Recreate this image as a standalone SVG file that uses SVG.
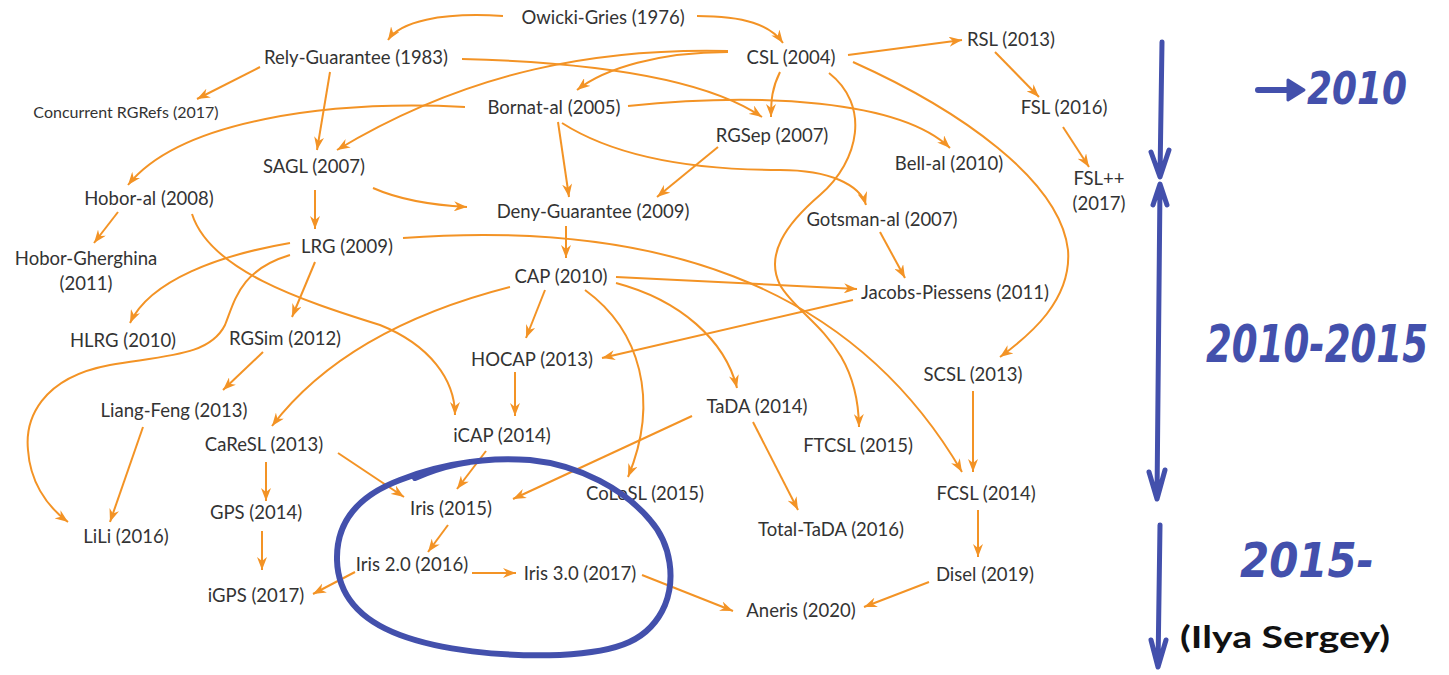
<svg xmlns="http://www.w3.org/2000/svg" width="1449" height="675" viewBox="0 0 1449 675">
<style>
.n{font-family:Lato,"Open Sans","Liberation Sans",sans-serif;font-size:18.5px;fill:#333;text-anchor:middle;font-weight:400}
.e{fill:none;stroke:#F39325;stroke-width:2;marker-end:url(#ah)}
.b{fill:none;stroke:#4350AC;stroke-width:5;stroke-linecap:round;stroke-linejoin:round}
.h{font-family:"DejaVu Sans","Liberation Sans",sans-serif;font-weight:bold;font-style:italic;fill:#4350AC}
</style>
<defs>
<marker id="ah" markerUnits="userSpaceOnUse" markerWidth="14" markerHeight="10" refX="13" refY="5" orient="auto">
<path d="M0,0 L13,5 L0,10 L4,5 z" fill="#F39325"/>
</marker>
</defs>
<rect width="1449" height="675" fill="#fff"/>
<g id="connectors">
<path class="e" d="M503,16 C 440,12 400,22 388,40"/>
<path class="e" d="M697,16 C 745,16 770,25 783,43"/>
<path class="e" d="M260,67 L197,99"/>
<path class="e" d="M330,72 L317,150"/>
<path class="e" d="M462,59 C 580,62 700,75 762,117"/>
<path class="e" d="M728,51 C 600,48 470,70 337,150"/>
<path class="e" d="M728,52 C 660,52 605,68 577,90"/>
<path class="e" d="M848,55 L962,40"/>
<path class="e" d="M780,72 C 772,88 771,100 771,117"/>
<path class="e" d="M853,62 C 960,110 1060,180 1068,250 C 1072,300 1030,335 1000,357"/>
<path class="e" d="M829,73 C 870,105 860,160 820,195 C 785,225 765,255 780,285 C 800,320 858,340 859,427"/>
<path class="e" d="M465,107 C 330,100 180,120 128,185"/>
<path class="e" d="M628,106 C 760,92 900,100 950,148"/>
<path class="e" d="M558,122 L569,197"/>
<path class="e" d="M562,123 C 620,160 700,170 780,170 C 830,170 860,185 866,205"/>
<path class="e" d="M718,147 L657,197"/>
<path class="e" d="M995,52 L1039,97"/>
<path class="e" d="M1063,127 L1089,167"/>
<path class="e" d="M373,188 C 400,200 430,205 467,207"/>
<path class="e" d="M315,190 L315,229"/>
<path class="e" d="M118,212 L94,243"/>
<path class="e" d="M192,214 C 210,270 300,300 380,325 C 430,345 455,380 455,415"/>
<path class="e" d="M566,226 L566,258"/>
<path class="e" d="M880,232 L905,278"/>
<path class="e" d="M403,238 C 650,220 850,280 962,472"/>
<path class="e" d="M290,243 C 220,255 150,280 130,323"/>
<path class="e" d="M290,255 C 240,270 235,300 225,325 C 210,355 170,355 110,365 C 40,378 25,420 28,450 C 30,480 45,505 68,522"/>
<path class="e" d="M315,262 L292,317"/>
<path class="e" d="M510,287 C 420,310 330,350 272,426"/>
<path class="e" d="M545,290 L526,338"/>
<path class="e" d="M616,277 L857,289"/>
<path class="e" d="M616,283 C 680,300 725,340 737,388"/>
<path class="e" d="M585,290 C 640,330 660,400 628,477"/>
<path class="e" d="M853,300 L602,358"/>
<path class="e" d="M515,372 L515,416"/>
<path class="e" d="M263,352 L223,390"/>
<path class="e" d="M143,427 L110,522"/>
<path class="e" d="M266,462 L266,501"/>
<path class="e" d="M338,453 L404,497"/>
<path class="e" d="M486,451 L457,489"/>
<path class="e" d="M692,416 L513,499"/>
<path class="e" d="M753,422 L798,510"/>
<path class="e" d="M262,531 L262,570"/>
<path class="e" d="M448,525 L428,552"/>
<path class="e" d="M355,572 L313,594"/>
<path class="e" d="M472,573 L516,573"/>
<path class="e" d="M642,575 L733,611"/>
<path class="e" d="M929,582 L864,607"/>
<path class="e" d="M973,391 L973,472"/>
<path class="e" d="M978,510 L978,557"/>
</g>
<g id="owicki"><text class="n" x="603" y="24">Owicki-Gries (1976)</text></g>
<g id="rely"><text class="n" x="356" y="64">Rely-Guarantee (1983)</text></g>
<g id="rgrefs"><text class="n" x="126" y="118" style="font-size:16px">Concurrent RGRefs (2017)</text></g>
<g id="csl"><text class="n" x="791" y="64">CSL (2004)</text></g>
<g id="rsl"><text class="n" x="1011" y="46">RSL (2013)</text></g>
<g id="bornat"><text class="n" x="554" y="114">Bornat-al (2005)</text></g>
<g id="fsl"><text class="n" x="1064" y="114">FSL (2016)</text></g>
<g id="rgsep"><text class="n" x="772" y="142">RGSep (2007)</text></g>
<g id="bell"><text class="n" x="949" y="170">Bell-al (2010)</text></g>
<g id="fslpp"><text class="n" x="1099" y="185">FSL++</text><text class="n" x="1099" y="210">(2017)</text></g>
<g id="sagl"><text class="n" x="314" y="173">SAGL (2007)</text></g>
<g id="hobor"><text class="n" x="149" y="205">Hobor-al (2008)</text></g>
<g id="deny"><text class="n" x="593" y="218">Deny-Guarantee (2009)</text></g>
<g id="gotsman"><text class="n" x="882" y="226">Gotsman-al (2007)</text></g>
<g id="lrg"><text class="n" x="347" y="253">LRG (2009)</text></g>
<g id="hg"><text class="n" x="86" y="265">Hobor-Gherghina</text><text class="n" x="86" y="290">(2011)</text></g>
<g id="hlrg"><text class="n" x="123" y="347">HLRG (2010)</text></g>
<g id="rgsim"><text class="n" x="285" y="345">RGSim (2012)</text></g>
<g id="liang"><text class="n" x="174" y="417">Liang-Feng (2013)</text></g>
<g id="caresl"><text class="n" x="264" y="451">CaReSL (2013)</text></g>
<g id="cap"><text class="n" x="561" y="283">CAP (2010)</text></g>
<g id="jp"><text class="n" x="955" y="299">Jacobs-Piessens (2011)</text></g>
<g id="hocap"><text class="n" x="532" y="366">HOCAP (2013)</text></g>
<g id="tada"><text class="n" x="757" y="413">TaDA (2014)</text></g>
<g id="icap"><text class="n" x="502" y="442">iCAP (2014)</text></g>
<g id="ftcsl"><text class="n" x="858" y="452">FTCSL (2015)</text></g>
<g id="scsl"><text class="n" x="973" y="381">SCSL (2013)</text></g>
<g id="gps"><text class="n" x="256" y="519">GPS (2014)</text></g>
<g id="iris"><text class="n" x="451" y="515">Iris (2015)</text></g>
<g id="colosl"><text class="n" x="645" y="500">CoLoSL (2015)</text></g>
<g id="fcsl"><text class="n" x="986" y="500">FCSL (2014)</text></g>
<g id="lili"><text class="n" x="126" y="543">LiLi (2016)</text></g>
<g id="totaltada"><text class="n" x="831" y="536">Total-TaDA (2016)</text></g>
<g id="iris2"><text class="n" x="412" y="571">Iris 2.0 (2016)</text></g>
<g id="iris3"><text class="n" x="580" y="580">Iris 3.0 (2017)</text></g>
<g id="disel"><text class="n" x="985" y="581">Disel (2019)</text></g>
<g id="igps"><text class="n" x="256" y="602">iGPS (2017)</text></g>
<g id="aneris"><text class="n" x="801" y="617">Aneris (2020)</text></g>
<g id="loop"><path class="b" style="stroke-width:6" d="M415,478 C 450,462 490,457 530,460 C 580,465 625,490 650,520 C 672,545 675,580 665,605 C 650,640 620,652 560,655 C 500,657 440,650 400,635 C 360,620 338,595 337,560 C 336,520 360,495 400,480 C 420,472 440,466 470,462"/></g>
<g id="timeline">
<path class="b" d="M1162,42 L1160,176 M1151,152 L1160,177 L1169,150"/>
<path class="b" d="M1153,205 L1160,184 L1167,205 M1160,186 L1157,498 M1149,472 L1157,499 L1165,470"/>
<path class="b" d="M1160,525 L1158,666 M1151,640 L1158,667 L1166,640"/>
<path class="b" d="M1258,90 L1296,90" style="stroke-width:6"/>
<path d="M1288,80 L1304,90 L1288,100 z" fill="#4350AC" stroke="#4350AC" stroke-width="3" stroke-linejoin="round"/>
<text class="h" x="1307" y="104" font-size="44" textLength="100" lengthAdjust="spacingAndGlyphs">2010</text>
<text class="h" transform="translate(1206,362) scale(1,1.4)" x="0" y="0" font-size="37" textLength="222" lengthAdjust="spacingAndGlyphs">2010-2015</text>
<text class="h" x="1240" y="577" font-size="48" textLength="134" lengthAdjust="spacingAndGlyphs">2015-</text>
<text x="1180" y="648" font-family="Lato,'Liberation Sans',sans-serif" font-size="30" font-weight="bold" fill="#111" textLength="210" lengthAdjust="spacingAndGlyphs">(Ilya Sergey)</text>
</g>
</svg>
